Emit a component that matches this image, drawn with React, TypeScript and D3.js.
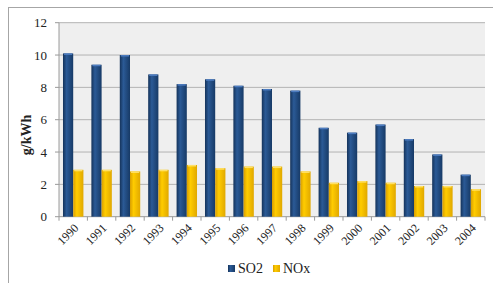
import React from "react";
import * as d3 from "d3";

const years = ["1990", "1991", "1992", "1993", "1994", "1995", "1996", "1997", "1998", "1999", "2000", "2001", "2002", "2003", "2004"];
const so2 = [10.1, 9.4, 10.0, 8.8, 8.2, 8.5, 8.1, 7.9, 7.8, 5.5, 5.2, 5.7, 4.8, 3.85, 2.6];
const nox = [2.9, 2.9, 2.8, 2.9, 3.2, 3.0, 3.1, 3.1, 2.8, 2.1, 2.2, 2.1, 1.9, 1.9, 1.7];
const yTicks = [0, 2, 4, 6, 8, 10, 12];

const W = 493;
const H = 283;
const PLOT = { left: 59, right: 485, top: 22.7, bottom: 216.7 };
const FONT = { fontFamily: "'Liberation Serif', 'DejaVu Serif', serif" };

export default function App() {
    const x = d3.scaleBand<string>().domain(years).range([PLOT.left, PLOT.right]);
    const y = d3.scaleLinear().domain([0, 12]).range([PLOT.bottom, PLOT.top]);
    const inner = d3.scaleBand<string>().domain(["so2", "nox"]).range([0, x.bandwidth()]).paddingOuter(0.39);
    const bw = inner.bandwidth();

    const series = [
        { key: "so2", values: so2, fill: "url(#gSo2)", cap: "#4d7cc0" },
        { key: "nox", values: nox, fill: "url(#gNox)", cap: "#ffe066" },
    ];

    return (
        <svg width={W} height={H} style={{ position: "absolute", left: 0, top: 0 }}>
            <defs>
                <linearGradient id="gSo2" x1="0" x2="1" y1="0" y2="0">
                    <stop offset="0%" stopColor="#15335a" />
                    <stop offset="35%" stopColor="#2b5a96" />
                    <stop offset="100%" stopColor="#173a66" />
                </linearGradient>
                <linearGradient id="gNox" x1="0" x2="1" y1="0" y2="0">
                    <stop offset="0%" stopColor="#d89e00" />
                    <stop offset="35%" stopColor="#ffcc00" />
                    <stop offset="100%" stopColor="#e0a800" />
                </linearGradient>
            </defs>
            <rect x={0} y={0} width={W} height={H} fill="#fff" />
            <rect x={8.5} y={7.5} width={W + 10} height={H + 10} fill="none" stroke="#a6a6a6" />
            <rect x={PLOT.left} y={PLOT.top} width={PLOT.right - PLOT.left} height={PLOT.bottom - PLOT.top} fill="#efefef" />
            {yTicks.map(t => (
                <g key={t}>
                    {t > 0 && <line x1={PLOT.left} x2={PLOT.right} y1={y(t)} y2={y(t)} stroke="#b3b3b3" strokeWidth={1} />}
                    <line x1={PLOT.left - 4} x2={PLOT.left} y1={y(t)} y2={y(t)} stroke="#9a9a9a" />
                    <text x={PLOT.left - 12} y={y(t)} dy="0.35em" textAnchor="end" style={FONT} fontSize={13} fill="#222">{t}</text>
                </g>
            ))}
            <line x1={PLOT.left} x2={PLOT.left} y1={PLOT.top} y2={PLOT.bottom} stroke="#9a9a9a" />
            <line x1={PLOT.left} x2={PLOT.right} y1={PLOT.bottom} y2={PLOT.bottom} stroke="#9a9a9a" />
            {years.map(yr => (
                <line key={"t" + yr} x1={x(yr)!} x2={x(yr)!} y1={PLOT.bottom} y2={PLOT.bottom + 4} stroke="#9a9a9a" />
            ))}
            <line x1={PLOT.right} x2={PLOT.right} y1={PLOT.bottom} y2={PLOT.bottom + 4} stroke="#9a9a9a" />
            {series.map(s => (
                <g key={s.key}>
                    {years.map((yr, i) => {
                        const bx = x(yr)! + inner(s.key)!;
                        const by = y(s.values[i]);
                        return (
                            <g key={yr}>
                                <rect x={bx} y={by} width={bw} height={PLOT.bottom - by} fill={s.fill} />
                                <rect x={bx + 1} y={by} width={bw - 2} height={1.5} fill={s.cap} />
                            </g>
                        );
                    })}
                </g>
            ))}
            {years.map(yr => {
                const cx = x(yr)! + x.bandwidth() / 2 + 3;
                const cy = PLOT.bottom + 9;
                return (
                    <text key={"l" + yr} transform={`translate(${cx},${cy}) rotate(-45)`} textAnchor="end" dy="0.35em" style={FONT} fontSize={12} fill="#222">{yr}</text>
                );
            })}
            <text transform={`translate(31,135) rotate(-90)`} textAnchor="middle" style={FONT} fontSize={14} fontWeight="bold" fill="#222">g/kWh</text>
            <g style={FONT} fontSize={14} fill="#222">
                <rect x={228} y={265} width={7} height={7} fill="url(#gSo2)" />
                <text x={238} y={268.5} dy="0.35em">SO2</text>
                <rect x={273} y={265} width={7} height={7} fill="url(#gNox)" />
                <text x={283} y={268.5} dy="0.35em">NOx</text>
            </g>
        </svg>
    );
}
